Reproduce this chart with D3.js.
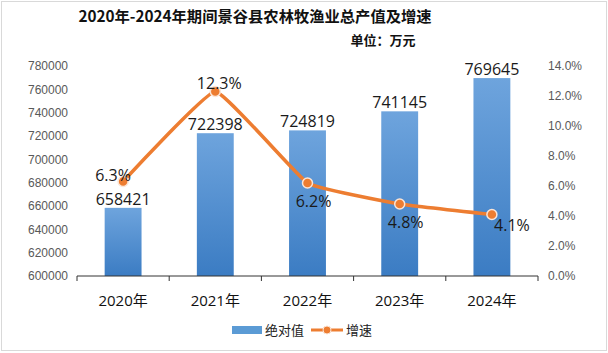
<!DOCTYPE html>
<html>
<head>
<meta charset="utf-8">
<script src="https://cdn.jsdelivr.net/npm/d3@7"></script>
<style>
  body { margin: 0; background: #fff; }
  svg { display: block; font-family: "Open Sans", "Noto Sans CJK SC", sans-serif; }
</style>
</head>
<body>
<div id="chart"></div>
<script>
// data
const years = ["2020年", "2021年", "2022年", "2023年", "2024年"];
const totals = [658421, 722398, 724819, 741145, 769645];
const growth = [6.3, 12.3, 6.2, 4.8, 4.1];
const growthLabelPos = ["left", "above", "below", "below", "right"];
const leftTicks = [600000, 620000, 640000, 660000, 680000, 700000, 720000, 740000, 760000, 780000];
const rightTicks = [0, 2, 4, 6, 8, 10, 12, 14];

const W = 608, H = 353;
const plot = { left: 77, right: 538, top: 66, bottom: 276 };

const svg = d3.select("#chart").append("svg")
    .attr("width", W)
    .attr("height", H);

svg.append("rect")
    .attr("x", 1.5).attr("y", 1.5)
    .attr("width", W - 3).attr("height", H - 4)
    .attr("fill", "#fff")
    .attr("stroke", "#d9d9d9");

const defs = svg.append("defs");
const grad = defs.append("linearGradient")
    .attr("id", "barGrad")
    .attr("x1", 0).attr("y1", 0).attr("x2", 0).attr("y2", 1);
grad.append("stop").attr("offset", "0%").attr("stop-color", "#6ea4dd");
grad.append("stop").attr("offset", "100%").attr("stop-color", "#3b7cc3");

// title
svg.append("text")
    .attr("x", 255).attr("y", 22)
    .attr("text-anchor", "middle")
    .style("font-family", "'Noto Sans CJK SC', sans-serif")
    .style("font-weight", "bold")
    .style("font-size", "15.3px")
    .attr("fill", "#111")
    .text("2020年-2024年期间景谷县农林牧渔业总产值及增速");

svg.append("text")
    .attr("x", 383).attr("y", 45)
    .attr("text-anchor", "middle")
    .style("font-family", "'Noto Sans CJK SC', sans-serif")
    .style("font-weight", "bold")
    .style("font-size", "13px")
    .attr("fill", "#111")
    .text("单位：万元");

// scales
const x = d3.scaleBand()
    .domain(years)
    .range([plot.left, plot.right])
    .paddingInner(0.6)
    .paddingOuter(0.3);

const xPoint = d3.scalePoint()
    .domain(years)
    .range([plot.left, plot.right])
    .padding(0.5);

const y = d3.scaleLinear()
    .domain([600000, 780000])
    .range([plot.bottom, plot.top]);

const y2 = d3.scaleLinear()
    .domain([0, 14])
    .range([plot.bottom, plot.top]);

// left axis
const leftAxis = svg.append("g")
    .attr("transform", `translate(${plot.left - 9}, 0)`)
    .call(d3.axisLeft(y).tickValues(leftTicks).tickSize(0).tickPadding(0).tickFormat(d3.format("d")));
leftAxis.select(".domain").remove();
leftAxis.selectAll("text")
    .style("font-size", "12px")
    .attr("fill", "#595959");

// right axis
const rightAxis = svg.append("g")
    .attr("transform", `translate(${plot.right + 10}, 0)`)
    .call(d3.axisRight(y2).tickValues(rightTicks).tickSize(0).tickPadding(0).tickFormat(d => d.toFixed(1) + "%"));
rightAxis.select(".domain").remove();
rightAxis.selectAll("text")
    .style("font-size", "12px")
    .attr("fill", "#595959");

// bars
svg.selectAll(".bar")
    .data(totals)
    .enter()
    .append("rect")
    .attr("class", "bar")
    .attr("x", (d, i) => x(years[i]))
    .attr("y", d => y(d))
    .attr("width", x.bandwidth())
    .attr("height", d => plot.bottom - y(d))
    .attr("fill", "url(#barGrad)");

// bottom axis
const bottomAxis = svg.append("g")
    .attr("transform", `translate(0, ${plot.bottom})`);
bottomAxis.append("line")
    .attr("x1", plot.left).attr("x2", plot.right)
    .attr("stroke", "#333").attr("stroke-width", 1);
const step = (plot.right - plot.left) / years.length;
bottomAxis.selectAll(".tk")
    .data(d3.range(years.length + 1))
    .enter()
    .append("line")
    .attr("x1", i => plot.left + i * step)
    .attr("x2", i => plot.left + i * step)
    .attr("y1", 0).attr("y2", 5)
    .attr("stroke", "#333");
bottomAxis.selectAll(".xl")
    .data(years)
    .enter()
    .append("text")
    .attr("x", d => xPoint(d))
    .attr("y", 30)
    .attr("text-anchor", "middle")
    .style("font-family", "'Open Sans', 'Noto Sans CJK SC', sans-serif")
    .style("font-size", "15px")
    .attr("fill", "#111")
    .text(d => d);

// bar labels
svg.selectAll(".barLabel")
    .data(totals)
    .enter()
    .append("text")
    .attr("x", (d, i) => xPoint(years[i]))
    .attr("y", d => y(d) - 3)
    .attr("text-anchor", "middle")
    .style("font-size", "16px")
    .attr("fill", "#1a1a1a")
    .text(d => d);

// line (lightly smoothed)
const line = d3.line()
    .x((d, i) => xPoint(years[i]))
    .y(d => y2(d))
    .curve(d3.curveCardinal.tension(0.7));

svg.append("path")
    .datum(growth)
    .attr("d", line)
    .attr("fill", "none")
    .attr("stroke", "#ed7d31")
    .attr("stroke-width", 3.5)
    .attr("stroke-linecap", "round");

svg.selectAll(".pt")
    .data(growth)
    .enter()
    .append("circle")
    .attr("cx", (d, i) => xPoint(years[i]))
    .attr("cy", d => y2(d))
    .attr("r", 5)
    .attr("fill", "#ed7d31")
    .attr("stroke", "#fbe5d6")
    .attr("stroke-width", 1.5);

// growth labels
const offsets = {
    left: [-10, -1],
    above: [4, -3],
    below: [6, 24],
    right: [20, 16]
};
svg.selectAll(".gl")
    .data(growth)
    .enter()
    .append("text")
    .attr("x", (d, i) => xPoint(years[i]) + offsets[growthLabelPos[i]][0])
    .attr("y", (d, i) => y2(d) + offsets[growthLabelPos[i]][1])
    .attr("text-anchor", "middle")
    .style("font-size", "16px")
    .attr("fill", "#1a1a1a")
    .text(d => d.toFixed(1) + "%");

// legend
const lg = svg.append("g");
lg.append("rect")
    .attr("x", 232).attr("y", 326)
    .attr("width", 30).attr("height", 8)
    .attr("fill", "#5b9bd5");
lg.append("text")
    .attr("x", 265).attr("y", 335)
    .style("font-family", "'Noto Sans CJK SC', sans-serif")
    .style("font-size", "13px")
    .attr("fill", "#222")
    .text("绝对值");
lg.append("line")
    .attr("x1", 311).attr("x2", 343)
    .attr("y1", 330).attr("y2", 330)
    .attr("stroke", "#ed7d31").attr("stroke-width", 3);
lg.append("circle")
    .attr("cx", 327).attr("cy", 330).attr("r", 4)
    .attr("fill", "#ed7d31")
    .attr("stroke", "#fbe5d6");
lg.append("text")
    .attr("x", 346).attr("y", 335)
    .style("font-family", "'Noto Sans CJK SC', sans-serif")
    .style("font-size", "13px")
    .attr("fill", "#222")
    .text("增速");
</script>
</body>
</html>
